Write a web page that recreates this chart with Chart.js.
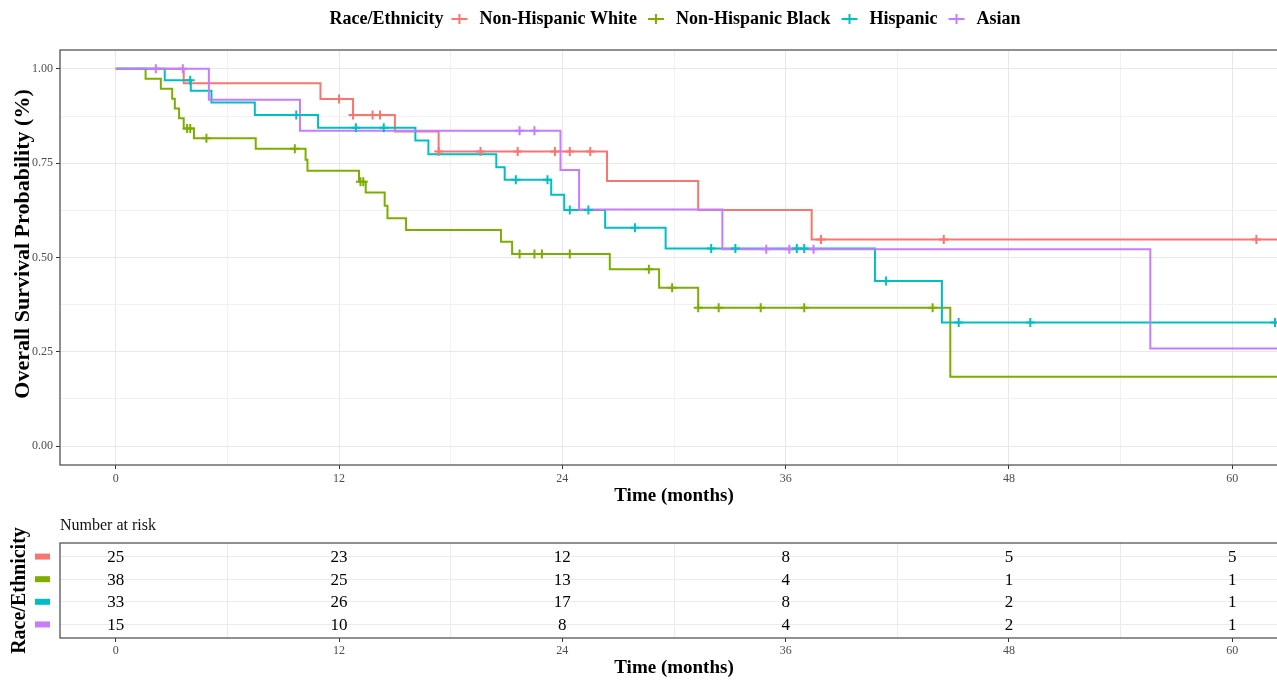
<!DOCTYPE html>
<html>
<head>
<meta charset="utf-8">
<script src="https://cdn.jsdelivr.net/npm/chart.js@4.4.1/dist/chart.umd.min.js"></script>
<style>
html,body{margin:0;padding:0;background:#fff;overflow:hidden;width:1277px;height:680px;}
#wrap{position:relative;width:1277px;height:680px;overflow:hidden;background:#fff;}
#main{position:absolute;left:0;top:0;}
#risk{position:absolute;left:0;top:510px;}
</style>
</head>
<body>
<div id="wrap">
<canvas id="main" width="1290" height="510"></canvas>
<canvas id="risk" width="1290" height="170"></canvas>
</div>
<script>
// ---------------- data ----------------
const groupNames = ['Non-Hispanic White', 'Non-Hispanic Black', 'Hispanic', 'Asian'];
const groupColors = ['#F8766D', '#7CAE00', '#00BFC4', '#C77CFF'];

// step curves: times of drops and survival after each drop
const nhwTime = [0, 3.65, 11.0, 12.75, 15.0, 17.35, 26.4, 31.3, 37.4, 63];
const nhwSurv = [1, 0.962, 0.92, 0.878, 0.834, 0.781, 0.703, 0.626, 0.548, 0.548];
const nhwCensor = [12.0, 12.75, 13.8, 14.2, 17.35, 19.6, 21.6, 23.6, 24.4, 25.5, 37.9, 44.5, 61.3];

const nhbTime = [0, 1.6, 2.42, 3.03, 3.17, 3.4, 3.65, 4.2, 7.52, 10.2, 10.3, 13.07, 13.43, 14.45, 14.6, 15.6, 20.7, 21.3, 26.55, 29.2, 31.3, 44.85, 63];
const nhbSurv = [1, 0.974, 0.947, 0.921, 0.895, 0.869, 0.842, 0.816, 0.788, 0.759, 0.730, 0.701, 0.672, 0.637, 0.604, 0.573, 0.542, 0.509, 0.469, 0.42, 0.367, 0.184, 0.184];
const nhbCensor = [3.83, 4.0, 4.87, 9.62, 13.15, 13.3, 21.7, 22.5, 22.9, 24.4, 28.65, 29.9, 31.3, 32.4, 34.66, 37.0, 43.9];

const hisTime = [0, 2.63, 4.03, 5.14, 7.47, 10.87, 16.1, 16.8, 20.45, 20.9, 23.4, 24.1, 26.3, 29.55, 40.8, 44.4, 63];
const hisSurv = [1, 0.970, 0.942, 0.911, 0.878, 0.844, 0.81, 0.774, 0.739, 0.706, 0.666, 0.626, 0.579, 0.524, 0.438, 0.328, 0.328];
const hisCensor = [4.0, 9.7, 12.9, 14.4, 21.5, 23.2, 24.4, 25.4, 27.9, 32.0, 33.3, 36.6, 37.0, 41.4, 45.3, 49.15, 62.3];

const asiTime = [0, 5.0, 9.9, 23.9, 24.9, 32.6, 55.6, 63];
const asiSurv = [1, 0.918, 0.836, 0.732, 0.627, 0.522, 0.259, 0.259];
const asiCensor = [2.15, 3.6, 21.7, 22.5, 34.96, 36.2, 37.5];

// axis ticks
const xTickLabels = [0, 12, 24, 36, 48, 60];
const xGrid = [0, 6, 12, 18, 24, 30, 36, 42, 48, 54, 60];
const yTickLabels = [0, 0.25, 0.5, 0.75, 1.0];
const yGrid = [0, 0.125, 0.25, 0.375, 0.5, 0.625, 0.75, 0.875, 1.0];

// number at risk table
const riskTimes = [0, 12, 24, 36, 48, 60];
const riskNHW = [25, 23, 12, 8, 5, 5];
const riskNHB = [38, 25, 13, 4, 1, 1];
const riskHIS = [33, 26, 17, 8, 2, 1];
const riskASI = [15, 10, 8, 4, 2, 1];

// ---------------- build ----------------
const SERIF = "'Liberation Serif', 'Times New Roman', serif";
const curves = [
  {t: nhwTime, s: nhwSurv, c: nhwCensor},
  {t: nhbTime, s: nhbSurv, c: nhbCensor},
  {t: hisTime, s: hisSurv, c: hisCensor},
  {t: asiTime, s: asiSurv, c: asiCensor}
];
const riskRows = [riskNHW, riskNHB, riskHIS, riskASI];

function survAt(times, surv, t) {
  let v = surv[0];
  for (let i = 0; i < times.length; i++) if (times[i] <= t) v = surv[i];
  return v;
}

const datasets = [];
curves.forEach((g, i) => {
  datasets.push({
    label: groupNames[i],
    data: g.t.map((t, k) => ({x: t, y: g.s[k]})),
    stepped: true,
    borderColor: groupColors[i],
    backgroundColor: groupColors[i],
    borderWidth: 2,
    pointRadius: 0,
    fill: false,
    order: 4 - i
  });
});
curves.forEach((g, i) => {
  datasets.push({
    label: groupNames[i] + ' censored',
    data: g.c.map(t => ({x: t, y: survAt(g.t, g.s, t)})),
    showLine: false,
    pointStyle: 'cross',
    pointRadius: 4.5,
    pointBorderWidth: 2,
    borderColor: groupColors[i],
    backgroundColor: groupColors[i],
    order: 0
  });
});

const isMajorX = v => xTickLabels.includes(v);
const isMajorY = v => yTickLabels.some(a => Math.abs(a - v) < 1e-9);

const mainDecor = {
  id: 'mainDecor',
  afterDraw(chart) {
    const ctx = chart.ctx, a = chart.chartArea;
    ctx.save();
    // panel border
    ctx.strokeStyle = '#555555';
    ctx.lineWidth = 1.3;
    ctx.strokeRect(a.left, a.top, a.right - a.left, a.bottom - a.top);
    // y-axis title
    ctx.fillStyle = '#000';
    ctx.font = `bold 22px ${SERIF}`;
    ctx.textAlign = 'center';
    ctx.textBaseline = 'middle';
    ctx.translate(23, 244);
    ctx.rotate(-Math.PI / 2);
    ctx.fillText('Overall Survival Probability (%)', 0, 0);
    ctx.restore();

    // legend
    ctx.save();
    ctx.font = `bold 18px ${SERIF}`;
    ctx.textBaseline = 'middle';
    ctx.textAlign = 'left';
    const title = 'Race/Ethnicity';
    const wT = ctx.measureText(title).width;
    const wL = groupNames.map(n => ctx.measureText(n).width);
    const total = wT + 16 + wL.reduce((s, w) => s + 20 + w, 0) + 19 * (groupNames.length - 1);
    let x = 675 - total / 2;
    const y = 19;
    ctx.fillStyle = '#000';
    ctx.fillText(title, x, y);
    x += wT + 16;
    groupNames.forEach((n, i) => {
      ctx.strokeStyle = groupColors[i];
      ctx.lineWidth = 2;
      ctx.beginPath();
      ctx.moveTo(x - 8, y); ctx.lineTo(x + 8, y);
      ctx.moveTo(x, y - 5); ctx.lineTo(x, y + 5);
      ctx.stroke();
      ctx.fillStyle = '#000';
      ctx.fillText(n, x + 20, y);
      x += 20 + wL[i] + 19;
    });
    ctx.restore();
  }
};

new Chart(document.getElementById('main'), {
  type: 'line',
  data: {datasets},
  plugins: [mainDecor],
  options: {
    responsive: false,
    animation: false,
    devicePixelRatio: 1,
    layout: {autoPadding: false, padding: {top: 50, left: 0, right: 2, bottom: 0}},
    plugins: {legend: {display: false}, tooltip: {enabled: false}},
    scales: {
      x: {
        type: 'linear', min: -3, max: 63,
        afterBuildTicks: s => { s.ticks = xGrid.map(v => ({value: v})); },
        afterFit: s => { s.height = 45; },
        ticks: {
          autoSkip: false, maxRotation: 0, padding: 3, color: '#4D4D4D',
          font: {family: SERIF, size: 12},
          callback: v => isMajorX(v) ? String(v) : ''
        },
        grid: {
          color: c => c.tick && isMajorX(c.tick.value) ? '#E8E8E8' : '#F1F1F1',
          lineWidth: 1, drawTicks: true, tickLength: 4,
          tickColor: c => c.tick && isMajorX(c.tick.value) ? '#333333' : 'rgba(0,0,0,0)',
          tickWidth: 1
        },
        border: {display: false},
        title: {display: true, text: 'Time (months)', color: '#000',
          font: {family: SERIF, size: 19, weight: 'bold'}, padding: {top: 0, bottom: 3}}
      },
      y: {
        type: 'linear', min: -0.05, max: 1.05,
        afterBuildTicks: s => { s.ticks = yGrid.map(v => ({value: v})); },
        afterFit: s => { s.width = 60; },
        ticks: {
          autoSkip: false, padding: 3, color: '#4D4D4D',
          font: {family: SERIF, size: 12},
          callback: v => isMajorY(v) ? v.toFixed(2) : ''
        },
        grid: {
          color: c => c.tick && isMajorY(c.tick.value) ? '#E8E8E8' : '#F1F1F1',
          lineWidth: 1, drawTicks: true, tickLength: 4,
          tickColor: c => c.tick && isMajorY(c.tick.value) ? '#333333' : 'rgba(0,0,0,0)',
          tickWidth: 1
        },
        border: {display: false},
        title: {display: false}
      }
    }
  }
});

// ---------------- risk table ----------------
const riskDatasets = riskRows.map((vals, i) => ({
  label: groupNames[i],
  data: riskTimes.map((t, k) => ({x: t, y: i + 1, n: vals[k]})),
  showLine: false,
  pointRadius: 0,
  borderColor: groupColors[i],
  backgroundColor: groupColors[i]
}));

const riskDecor = {
  id: 'riskDecor',
  afterDatasetsDraw(chart) {
    const ctx = chart.ctx, a = chart.chartArea;
    const ys = chart.scales.y;
    ctx.save();
    ctx.font = `17px ${SERIF}`;
    ctx.fillStyle = '#000';
    ctx.textAlign = 'center';
    ctx.textBaseline = 'middle';
    chart.data.datasets.forEach((ds, i) => {
      const meta = chart.getDatasetMeta(i);
      meta.data.forEach((pt, k) => {
        ctx.fillText(String(ds.data[k].n), pt.x, pt.y + 1);
      });
      // colored key bars on the y axis
      const y = ys.getPixelForValue(i + 1);
      ctx.fillStyle = groupColors[i];
      ctx.fillRect(35, y - 3, 15, 6);
      ctx.fillStyle = '#000';
    });
    ctx.strokeStyle = '#555555';
    ctx.lineWidth = 1.3;
    ctx.strokeRect(a.left, a.top, a.right - a.left, a.bottom - a.top);
    ctx.font = `16px ${SERIF}`;
    ctx.textAlign = 'left';
    ctx.fillStyle = '#111';
    ctx.fillText('Number at risk', 60, 16);
    ctx.restore();
  }
};

new Chart(document.getElementById('risk'), {
  type: 'line',
  data: {datasets: riskDatasets},
  plugins: [riskDecor],
  options: {
    responsive: false,
    animation: false,
    devicePixelRatio: 1,
    layout: {autoPadding: false, padding: {top: 33, left: 0, right: 2, bottom: 0}},
    plugins: {legend: {display: false}, tooltip: {enabled: false}},
    scales: {
      x: {
        type: 'linear', min: -3, max: 63,
        afterBuildTicks: s => { s.ticks = xGrid.map(v => ({value: v})); },
        afterFit: s => { s.height = 42; },
        ticks: {
          autoSkip: false, maxRotation: 0, padding: 2, color: '#4D4D4D',
          font: {family: SERIF, size: 12},
          callback: v => isMajorX(v) ? String(v) : ''
        },
        grid: {
          color: c => c.tick && isMajorX(c.tick.value) ? 'rgba(0,0,0,0)' : '#EBEBEB',
          lineWidth: 1, drawTicks: true, tickLength: 4,
          tickColor: c => c.tick && isMajorX(c.tick.value) ? '#333333' : 'rgba(0,0,0,0)',
          tickWidth: 1
        },
        border: {display: false},
        title: {display: true, text: 'Time (months)', color: '#000',
          font: {family: SERIF, size: 19, weight: 'bold'}, padding: {top: 0, bottom: 1}}
      },
      y: {
        type: 'linear', min: 0.4, max: 4.6, reverse: true,
        afterBuildTicks: s => { s.ticks = [1, 2, 3, 4].map(v => ({value: v})); },
        afterFit: s => { s.width = 60; },
        ticks: {display: false},
        grid: {color: '#EBEBEB', lineWidth: 1, drawTicks: false},
        border: {display: false},
        title: {display: true, text: 'Race/Ethnicity', color: '#000',
          font: {family: SERIF, size: 20, weight: 'bold'}, padding: {top: 8, bottom: 0}}
      }
    }
  }
});
</script>
</body>
</html>
